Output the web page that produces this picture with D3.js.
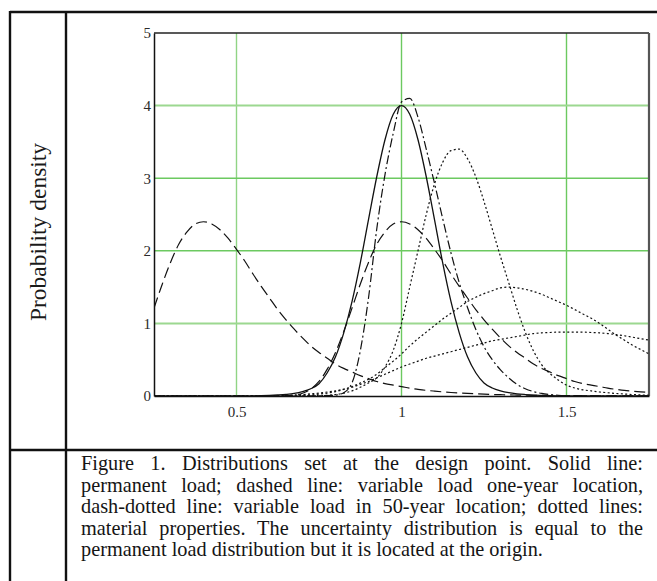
<!DOCTYPE html>
<html>
<head>
<meta charset="utf-8">
<script src="https://cdn.jsdelivr.net/npm/d3@7"></script>
<style>
  body { margin: 0; background: #fff; overflow: hidden; }
  #wrap { position: relative; width: 657px; height: 581px; }
  #chart { position: absolute; left: 0; top: 0; }
  #caption { position: absolute; left: 81px; top: 453px; width: 562px;
    font-family: "Liberation Serif", "Times New Roman", serif; font-size: 20.3px;
    line-height: 21.6px; color: #151515; }
  #caption div { text-align: justify; text-align-last: justify; white-space: nowrap; }
  #caption div.last { text-align-last: left; }
</style>
</head>
<body>
<div id="wrap">
  <svg id="chart"></svg>
  <div id="caption"></div>
</div>
<script>
// sample points on the x axis (shared by all curves)
const xGrid = [0.25, 0.275, 0.3, 0.325, 0.35, 0.375, 0.4, 0.425, 0.45, 0.475,
               0.5, 0.525, 0.55, 0.575, 0.6, 0.625, 0.65, 0.675, 0.7, 0.725,
               0.75, 0.775, 0.8, 0.825, 0.85, 0.875, 0.9, 0.925, 0.95, 0.975,
               1.0, 1.025, 1.05, 1.075, 1.1, 1.125, 1.15, 1.175, 1.2, 1.225,
               1.25, 1.275, 1.3, 1.325, 1.35, 1.375, 1.4, 1.425, 1.45, 1.475,
               1.5, 1.525, 1.55, 1.575, 1.6, 1.625, 1.65, 1.675, 1.7, 1.725, 1.75];

// solid line: permanent load
const permanentLoad = [0, 0, 0, 0, 0, 0, 0, 0, 0, 0,
                       0, 0, 0.002, 0.004, 0.008, 0.014, 0.022, 0.035, 0.06, 0.1,
                       0.17, 0.32, 0.54, 0.87, 1.3, 1.83, 2.43, 3.02, 3.53, 3.88,
                       4.0, 3.88, 3.53, 3.02, 2.43, 1.83, 1.3, 0.87, 0.54, 0.32,
                       0.18, 0.11, 0.07, 0.045, 0.03, 0.02, 0.012, 0.008, 0.005, 0.003,
                       0.002, 0, 0, 0, 0, 0, 0, 0, 0, 0, 0];

// dashed lines: variable load
const variableLow = [1.21, 1.54, 1.84, 2.09, 2.26, 2.37, 2.4, 2.37, 2.29, 2.17,
                     2.02, 1.86, 1.68, 1.51, 1.35, 1.19, 1.05, 0.92, 0.8, 0.69,
                     0.6, 0.52, 0.44, 0.38, 0.33, 0.28, 0.24, 0.2, 0.17, 0.15,
                     0.13, 0.108, 0.092, 0.078, 0.067, 0.057, 0.048, 0.041, 0.035, 0.03,
                     0.025, 0.021, 0.018, 0.015, 0.013, 0.011, 0.009, 0.008, 0.0065, 0.0055,
                     0.0046, 0.004, 0.0033, 0.0028, 0.0024, 0.002, 0.0017, 0.0014, 0.0012, 0.001, 0.0008];

const variableHigh = [0, 0, 0, 0, 0, 0, 0, 0, 0, 0,
                      0, 0, 0, 0, 0, 0.001, 0.004, 0.013, 0.038, 0.095,
                      0.2, 0.37, 0.6, 0.89, 1.21, 1.54, 1.84, 2.09, 2.26, 2.37,
                      2.4, 2.37, 2.29, 2.17, 2.02, 1.86, 1.68, 1.51, 1.35, 1.19,
                      1.05, 0.92, 0.8, 0.69, 0.6, 0.52, 0.44, 0.38, 0.33, 0.28,
                      0.24, 0.2, 0.17, 0.15, 0.13, 0.108, 0.092, 0.078, 0.067, 0.057, 0.048];

// dash-dotted line: variable load in 50-year location
const variable50 = [0, 0, 0, 0, 0, 0, 0, 0, 0, 0,
                    0, 0, 0, 0, 0, 0, 0, 0, 0.001, 0.002,
                    0.003, 0.005, 0.012, 0.045, 0.18, 0.62, 1.35, 2.3, 3.05, 3.62,
                    4.05, 4.1, 3.84, 3.4, 2.93, 2.44, 1.97, 1.56, 1.22, 0.92,
                    0.68, 0.5, 0.36, 0.25, 0.16, 0.1, 0.06, 0.035, 0.02, 0.01,
                    0.005, 0.003, 0.002, 0.001, 0, 0, 0, 0, 0, 0, 0];

// dotted lines: material properties
const materialA = [0, 0, 0, 0, 0, 0, 0, 0, 0, 0,
                   0, 0, 0, 0, 0, 0, 0, 0, 0.002, 0.003,
                   0.005, 0.01, 0.02, 0.04, 0.07, 0.12, 0.18, 0.25, 0.4, 0.63,
                   1.0, 1.5, 2.0, 2.5, 2.92, 3.22, 3.38, 3.4, 3.27, 3.02,
                   2.68, 2.3, 1.92, 1.56, 1.2, 0.88, 0.62, 0.43, 0.31, 0.22,
                   0.15, 0.11, 0.085, 0.07, 0.055, 0.045, 0.035, 0.028, 0.02, 0.015, 0.01];

const materialB = [0, 0, 0, 0, 0, 0, 0, 0, 0, 0,
                   0, 0, 0, 0, 0, 0, 0, 0, 0.01, 0.015,
                   0.025, 0.04, 0.06, 0.09, 0.13, 0.18, 0.23, 0.3, 0.39, 0.48,
                   0.58, 0.69, 0.79, 0.88, 0.97, 1.06, 1.14, 1.22, 1.3, 1.36,
                   1.41, 1.45, 1.49, 1.5, 1.49, 1.47, 1.44, 1.4, 1.35, 1.3,
                   1.25, 1.19, 1.13, 1.07, 1.0, 0.92, 0.84, 0.77, 0.7, 0.64, 0.58];

const materialC = [0, 0, 0, 0, 0, 0, 0, 0, 0, 0,
                   0, 0, 0, 0, 0, 0, 0.01, 0.015, 0.02, 0.03,
                   0.04, 0.055, 0.07, 0.095, 0.12, 0.16, 0.2, 0.25, 0.3, 0.35,
                   0.4, 0.44, 0.48, 0.52, 0.55, 0.58, 0.61, 0.64, 0.67, 0.7,
                   0.73, 0.76, 0.78, 0.8, 0.82, 0.84, 0.86, 0.87, 0.875, 0.88,
                   0.88, 0.88, 0.88, 0.875, 0.87, 0.86, 0.845, 0.83, 0.81, 0.79, 0.77];

const xTicks = [0.5, 1, 1.5];
const yTicks = [0, 1, 2, 3, 4, 5];
const xTickLabels = ['0.5', '1', '1.5'];

const yTitle = 'Probability density';
const captionLines = [
  'Figure 1. Distributions set at the design point. Solid line:',
  'permanent load; dashed line: variable load one-year location,',
  'dash-dotted line: variable load in 50-year location; dotted lines:',
  'material properties. The uncertainty distribution is equal to the',
  'permanent load distribution but it is located at the origin.'
];

function drawTable(svg) {
  svg.append('path')
    .attr('d', 'M10,12H657 M10,11V581 M66,11V581 M10,450H657')
    .attr('stroke', '#111')
    .attr('stroke-width', 2.4)
    .attr('fill', 'none');

  svg.append('text')
    .attr('transform', 'translate(46, 232) rotate(-90)')
    .attr('font-family', '"Liberation Serif", "Times New Roman", serif')
    .attr('font-size', '23.5px')
    .attr('fill', '#1a1a1a')
    .style('text-anchor', 'middle')
    .text(yTitle);
}

function drawChart(svg) {
  const x = d3.scaleLinear().domain([0.25, 1.75]).range([154, 649]),
        y = d3.scaleLinear().domain([0, 5]).range([396, 33]);

  const grid = svg.append('g').classed('grid', true);
  grid.selectAll('.vgrid')
    .data(xTicks)
    .enter()
    .append('line')
    .classed('vgrid', true)
    .attr('x1', d => x(d)).attr('x2', d => x(d))
    .attr('y1', y(0)).attr('y2', y(5))
    .attr('stroke', d => d === 0.5 ? '#90d485' : '#6cc960')
    .attr('stroke-width', 1.4);
  grid.selectAll('.hgrid')
    .data(yTicks.filter(d => d > 0 && d < 5))
    .enter()
    .append('line')
    .classed('hgrid', true)
    .attr('x1', x(0.25)).attr('x2', x(1.75))
    .attr('y1', d => y(d)).attr('y2', d => y(d))
    .attr('stroke', d => (d === 1 || d === 4) ? '#9cd890' : '#6cc960')
    .attr('stroke-width', d => (d === 1 || d === 4) ? 2 : 1.4);

  // frame: top black, right grey
  svg.append('line')
    .attr('x1', x(0.25)).attr('x2', x(1.75))
    .attr('y1', y(5)).attr('y2', y(5))
    .attr('stroke', '#222').attr('stroke-width', 1.4);
  svg.append('line')
    .attr('x1', x(1.75)).attr('x2', x(1.75))
    .attr('y1', y(5)).attr('y2', y(0))
    .attr('stroke', '#555').attr('stroke-width', 2.2);

  svg.append('clipPath')
    .attr('id', 'plot-clip')
    .append('rect')
    .attr('x', x(0.25)).attr('y', y(5))
    .attr('width', x(1.75) - x(0.25))
    .attr('height', y(0) - y(5));

  const line = d3.line()
    .x((d, i) => x(xGrid[i]))
    .y(d => y(d))
    .curve(d3.curveMonotoneX);

  const series = [
    {values: materialC, dash: '2,2.4'},
    {values: materialB, dash: '2,2.4'},
    {values: materialA, dash: '2,2.4'},
    {values: variableLow, dash: '11,5'},
    {values: variableHigh, dash: '11,5'},
    {values: variable50, dash: '9,3,2,3'},
    {values: permanentLoad, dash: null}
  ];

  svg.append('g')
    .attr('clip-path', 'url(#plot-clip)')
    .selectAll('.curve')
    .data(series)
    .enter()
    .append('path')
    .classed('curve', true)
    .attr('fill', 'none')
    .attr('stroke', '#111')
    .attr('stroke-width', d => d.dash ? 1.2 : 1.3)
    .attr('stroke-dasharray', d => d.dash)
    .attr('d', d => line(d.values));

  const xAxis = svg.append('g')
    .attr('transform', `translate(0, ${y(0)})`)
    .call(d3.axisBottom(x)
      .tickValues(xTicks)
      .tickFormat((d, i) => xTickLabels[i])
      .tickSize(0)
      .tickPadding(10));
  const yAxis = svg.append('g')
    .attr('transform', `translate(${x(0.25)}, 0)`)
    .call(d3.axisLeft(y)
      .tickValues(yTicks)
      .tickFormat(d3.format('d'))
      .tickSize(0)
      .tickPadding(3));

  [xAxis, yAxis].forEach(ax => {
    ax.attr('font-family', '"Liberation Serif", "Times New Roman", serif')
      .attr('font-size', 15);
    ax.select('.domain').attr('stroke', '#111').attr('stroke-width', 1.5);
    ax.selectAll('text').attr('fill', '#2a2a2a');
  });
}

function drawCaption() {
  d3.select('#caption')
    .selectAll('div')
    .data(captionLines)
    .enter()
    .append('div')
    .classed('last', (d, i) => i === captionLines.length - 1)
    .text(d => d);
}

const svg = d3.select('#chart').attr('width', 657).attr('height', 581);
drawTable(svg);
drawChart(svg);
drawCaption();
</script>
</body>
</html>
